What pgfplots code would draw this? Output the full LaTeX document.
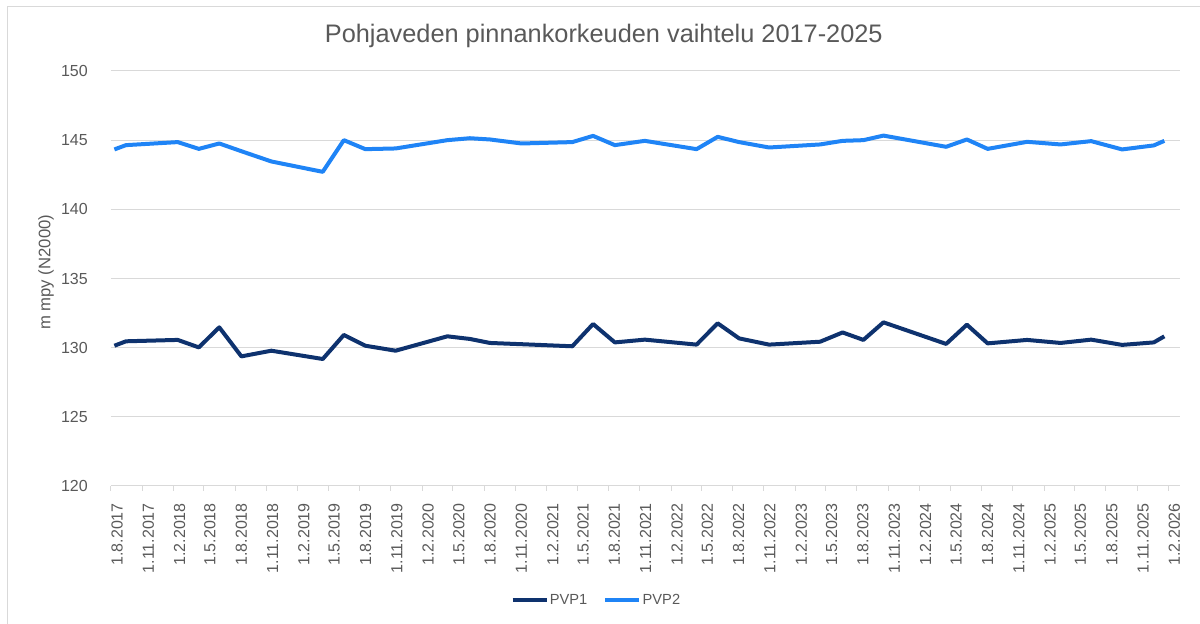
\documentclass[border=0pt]{standalone}
\usepackage{fontspec}
\setmainfont{Liberation Sans}
\usepackage{pgfplots}
\pgfplotsset{compat=1.18}
\usepackage{pgfplotstable}
\definecolor{txt}{HTML}{595959}
\definecolor{gridc}{HTML}{D9D9D9}
\definecolor{pvpone}{RGB}{14,50,110}
\definecolor{pvptwo}{RGB}{31,132,246}

% day = days since 1.8.2017
\pgfplotstableread{
day pvp1 pvp2
10 130.14 144.33
44 130.46 144.64
196 130.56 144.86
258 130.02 144.37
318 131.47 144.76
383 129.37 144.20
471 129.78 143.46
622 129.18 142.71
684 130.92 145.00
747 130.14 144.35
836 129.78 144.40
988 130.82 145.00
1054 130.63 145.14
1113 130.34 145.05
1206 130.25 144.76
1355 130.10 144.86
1416 131.71 145.31
1480 130.38 144.64
1568 130.58 144.95
1720 130.22 144.35
1782 131.76 145.24
1845 130.67 144.86
1933 130.22 144.47
2083 130.43 144.69
2149 131.10 144.95
2210 130.56 145.00
2269 131.83 145.33
2453 130.27 144.52
2514 131.66 145.05
2575 130.31 144.37
2691 130.56 144.88
2789 130.34 144.69
2879 130.58 144.93
2970 130.20 144.33
3063 130.38 144.62
3094 130.82 144.95
}\data

\begin{document}
\begin{tikzpicture}
\path[use as bounding box] (0,0) rectangle (900pt,468pt);
\draw[gridc, line width=0.75pt] (5.25pt,0) -- (5.25pt,462.75pt) -- (900pt,462.75pt);
\begin{axis}[
  at={(83.25pt,103.5pt)}, anchor=south west,
  scale only axis, width=801.75pt, height=311.25pt,
  xmin=0, xmax=3140, ymin=120, ymax=150,
  ytick={120,125,130,135,140,145,150},
  xtick={0,92,184,273,365,457,549,638,730,822,914,1004,1096,1188,1280,1369,1461,1553,1645,1734,1826,1918,2010,2099,2191,2283,2375,2465,2557,2649,2741,2830,2922,3014,3106},
  xticklabels={1.8.2017,1.11.2017,1.2.2018,1.5.2018,1.8.2018,1.11.2018,1.2.2019,1.5.2019,1.8.2019,1.11.2019,1.2.2020,1.5.2020,1.8.2020,1.11.2020,1.2.2021,1.5.2021,1.8.2021,1.11.2021,1.2.2022,1.5.2022,1.8.2022,1.11.2022,1.2.2023,1.5.2023,1.8.2023,1.11.2023,1.2.2024,1.5.2024,1.8.2024,1.11.2024,1.2.2025,1.5.2025,1.8.2025,1.11.2025,1.2.2026},
  /pgf/number format/assume math mode=true,
  axis x line*=bottom, axis y line*=left,
  x axis line style={gridc, line width=0.75pt},
  y axis line style={draw=none},
  ymajorgrids, grid style={gridc, line width=0.75pt},
  tick align=outside, major tick length=3.75pt,
  xtick style={gridc, line width=0.75pt},
  ytick style={draw=none},
  xticklabel style={font=\fontsize{12}{14}\selectfont, text=txt, xshift=4.5pt, yshift=-9pt, rotate=90, anchor=east, inner sep=0pt},
  yticklabel style={font=\fontsize{12}{14}\selectfont, text=txt, anchor=east, inner sep=0pt, xshift=-13.5pt},
  ylabel={m mpy (N2000)},
  ylabel style={at={(axis description cs:-0.0608,0.515)}, anchor=center, font=\fontsize{12.5}{15}\selectfont, text=txt},
  title={Pohjaveden pinnankorkeuden vaihtelu 2017-2025},
  title style={at={(axis description cs:0.461,1.065)}, anchor=center, font=\fontsize{19}{23}\selectfont, text=txt},
  legend style={at={(axis description cs:0.4537,-0.275)}, anchor=center, draw=none, fill=none,
    font=\fontsize{11}{13}\selectfont, text=txt, inner sep=0pt,
    nodes={inner sep=1pt},
    /tikz/every even column/.append style={column sep=11pt}},
  legend columns=2,
  legend image code/.code={\draw[#1] (0pt,0pt) -- (25.5pt,0pt);},
  no markers,
]
\addplot[pvpone, line width=3pt, line join=round] table[x=day, y=pvp1] {\data};
\addlegendentry{PVP1}
\addplot[pvptwo, line width=3pt, line join=round] table[x=day, y=pvp2] {\data};
\addlegendentry{PVP2}
\end{axis}
\end{tikzpicture}
\end{document}
